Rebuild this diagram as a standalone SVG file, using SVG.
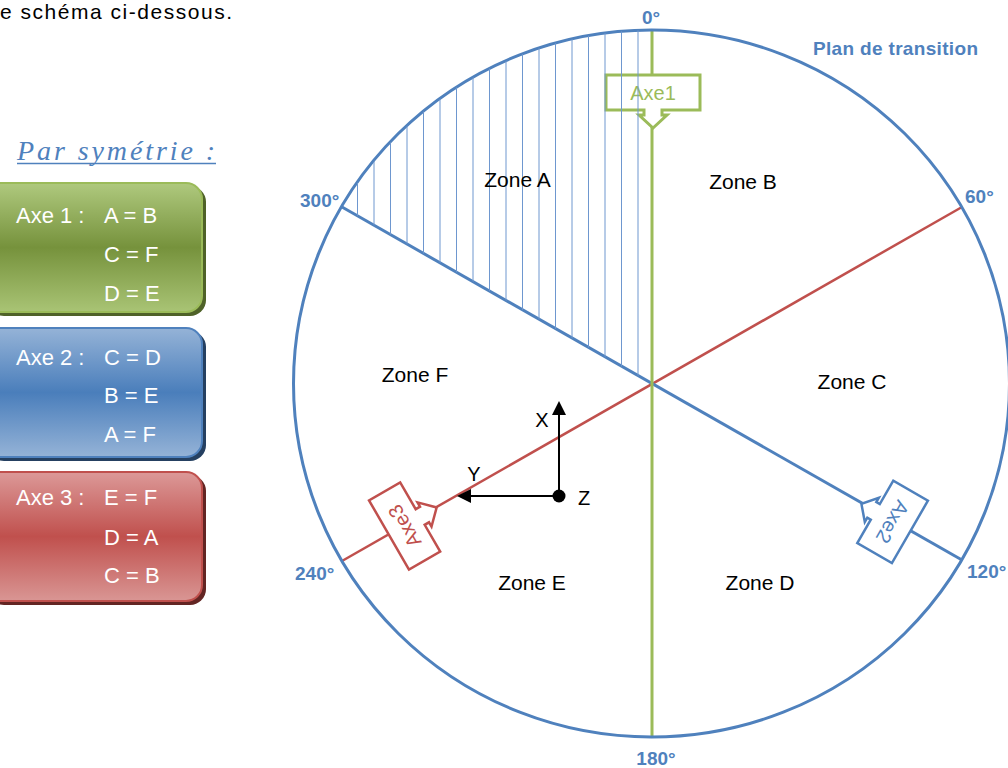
<svg xmlns="http://www.w3.org/2000/svg" width="1008" height="768" viewBox="0 0 1008 768">
<style>
.t{font-family:"Liberation Sans",Arial,sans-serif}
.zone{font-family:"Liberation Sans",Arial,sans-serif;font-size:21px;fill:#000;text-anchor:middle}
.deg{font-family:"Liberation Sans",Arial,sans-serif;font-size:19px;font-weight:bold;fill:#4f81bd}
.leg{font-family:"Liberation Sans",Arial,sans-serif;font-size:22px;fill:#fff}
.ax{font-family:"Liberation Sans",Arial,sans-serif;font-size:20px;fill:#000;text-anchor:middle}
.call{font-family:"Liberation Sans",Arial,sans-serif;font-size:20px;text-anchor:middle}
.hatch{stroke:#6e97cf;stroke-width:1}
</style>
<defs>
<linearGradient id="gG" x1="0" y1="0" x2="0" y2="1">
<stop offset="0" stop-color="#afc97e"/><stop offset="0.5" stop-color="#76923c"/><stop offset="1" stop-color="#a9c475"/>
</linearGradient>
<linearGradient id="gB" x1="0" y1="0" x2="0" y2="1">
<stop offset="0" stop-color="#95b3d7"/><stop offset="0.5" stop-color="#4a7ebb"/><stop offset="1" stop-color="#95b3d7"/>
</linearGradient>
<linearGradient id="gR" x1="0" y1="0" x2="0" y2="1">
<stop offset="0" stop-color="#dc9998"/><stop offset="0.5" stop-color="#c0504d"/><stop offset="1" stop-color="#d99694"/>
</linearGradient>
<clipPath id="sector">
<path d="M651.5,383.5 L342,207 A358,353.5 0 0 1 651.5,30 Z"/>
</clipPath>
</defs>
<rect width="1008" height="768" fill="#fff"/>

<text class="t" x="0" y="19" font-size="21" fill="#000" textLength="232">e schéma ci-dessous.</text>

<g id="legend-title">
<text x="17" y="160" font-family="'Liberation Serif',serif" font-style="italic" font-size="28" fill="#4f81bd" textLength="198">Par symétrie :</text>
<line x1="17" y1="163.5" x2="216" y2="163.5" stroke="#4f81bd" stroke-width="1.5"/>
</g>

<g id="box-axe1">
<rect x="-12" y="186" width="218" height="130" rx="16" fill="#4f6228"/>
<rect x="-15" y="183" width="217" height="129" rx="16" fill="url(#gG)" stroke="#9bbb59" stroke-width="2"/>
<text class="leg" x="16" y="223">Axe 1 :</text>
<text class="leg" x="104" y="223">A = B</text>
<text class="leg" x="104" y="262">C = F</text>
<text class="leg" x="104" y="301">D = E</text>
</g>

<g id="box-axe2">
<rect x="-12" y="331" width="218" height="130" rx="16" fill="#254061"/>
<rect x="-15" y="328" width="217" height="129" rx="16" fill="url(#gB)" stroke="#4f81bd" stroke-width="2"/>
<text class="leg" x="16" y="365">Axe 2 :</text>
<text class="leg" x="104" y="365">C = D</text>
<text class="leg" x="104" y="403">B = E</text>
<text class="leg" x="104" y="442">A = F</text>
</g>

<g id="box-axe3">
<rect x="-12" y="475" width="218" height="130" rx="16" fill="#632523"/>
<rect x="-15" y="472" width="217" height="129" rx="16" fill="url(#gR)" stroke="#c0504d" stroke-width="2"/>
<text class="leg" x="16" y="505">Axe 3 :</text>
<text class="leg" x="104" y="505">E = F</text>
<text class="leg" x="104" y="545">D = A</text>
<text class="leg" x="104" y="583">C = B</text>
</g>

<g id="connectors">
<line id="axe3-line" x1="962" y1="207" x2="342" y2="561" stroke="#c0504d" stroke-width="2.5"/>
<line id="axe2-line" x1="342" y1="207" x2="962" y2="560" stroke="#4f81bd" stroke-width="3"/>
<line id="axe1-line" x1="652" y1="30" x2="652" y2="737" stroke="#9bbb59" stroke-width="3"/>
</g>

<g id="circle">
<ellipse cx="651.5" cy="383.5" rx="358" ry="353.5" fill="none" stroke="#4f81bd" stroke-width="3"/>
</g>

<g id="callout-axe1" transform="translate(653,92.5)">
<path d="M-47,-17.5 H47 V17.5 H9 V22.5 H14 L0,35.5 L-14,22.5 H-9 V17.5 H-47 Z" fill="#fff" stroke="#9bbb59" stroke-width="3"/>
<text class="call" x="0" y="7" fill="#9bbb59">Axe1</text>
</g>

<g id="hatch" clip-path="url(#sector)">
<line class="hatch" x1="638" y1="20" x2="638" y2="390"/>
<line class="hatch" x1="621.5" y1="20" x2="621.5" y2="390"/>
<line class="hatch" x1="605" y1="20" x2="605" y2="390"/>
<line class="hatch" x1="588.5" y1="20" x2="588.5" y2="390"/>
<line class="hatch" x1="572" y1="20" x2="572" y2="390"/>
<line class="hatch" x1="555.5" y1="20" x2="555.5" y2="390"/>
<line class="hatch" x1="539" y1="20" x2="539" y2="390"/>
<line class="hatch" x1="522.5" y1="20" x2="522.5" y2="390"/>
<line class="hatch" x1="506" y1="20" x2="506" y2="390"/>
<line class="hatch" x1="489.5" y1="20" x2="489.5" y2="390"/>
<line class="hatch" x1="473" y1="20" x2="473" y2="390"/>
<line class="hatch" x1="456.5" y1="20" x2="456.5" y2="390"/>
<line class="hatch" x1="440" y1="20" x2="440" y2="390"/>
<line class="hatch" x1="423.5" y1="20" x2="423.5" y2="390"/>
<line class="hatch" x1="407" y1="20" x2="407" y2="390"/>
<line class="hatch" x1="390.5" y1="20" x2="390.5" y2="390"/>
<line class="hatch" x1="374" y1="20" x2="374" y2="390"/>
<line class="hatch" x1="357.5" y1="20" x2="357.5" y2="390"/>
</g>

<g id="callout-axe2" transform="translate(892.6,521.9) rotate(120)">
<path d="M-36,-20 H36 V20 H9 V24 H14 L0,36 L-14,24 H-9 V20 H-36 Z" fill="#fff" stroke="#4f81bd" stroke-width="2.5"/>
<text class="call" x="0" y="7" fill="#4f81bd">Axe2</text>
</g>

<g id="callout-axe3" transform="translate(404.6,526) rotate(240)">
<path d="M-40,-18 H40 V18 H9 V23 H14 L0,37 L-14,23 H-9 V18 H-40 Z" fill="#fff" stroke="#c0504d" stroke-width="2.5"/>
<text class="call" x="0" y="7" fill="#c0504d">Axe3</text>
</g>

<g id="labels">
<text class="deg" x="651" y="24" text-anchor="middle">0°</text>
<text class="deg" x="813" y="55" textLength="165">Plan de transition</text>
<text class="deg" x="965" y="203">60°</text>
<text class="deg" x="300" y="207">300°</text>
<text class="deg" x="295" y="580">240°</text>
<text class="deg" x="967" y="578">120°</text>
<text class="deg" x="656" y="765" text-anchor="middle">180°</text>
</g>

<g id="zones">
<text class="zone" x="517.5" y="187">Zone A</text>
<text class="zone" x="743" y="189">Zone B</text>
<text class="zone" x="852" y="389">Zone C</text>
<text class="zone" x="760" y="590">Zone D</text>
<text class="zone" x="532" y="590">Zone E</text>
<text class="zone" x="415" y="382">Zone F</text>
</g>

<g id="axes">
<line x1="559" y1="496" x2="559" y2="413" stroke="#000" stroke-width="2"/>
<polygon points="559,401 552,415 566,415" fill="#000"/>
<line x1="559" y1="496" x2="470" y2="496" stroke="#000" stroke-width="2"/>
<polygon points="457,496 471,489 471,503" fill="#000"/>
<circle cx="559" cy="496" r="6.5" fill="#000"/>
<text class="ax" x="542" y="427">X</text>
<text class="ax" x="474" y="481">Y</text>
<text class="ax" x="584" y="505">Z</text>
</g>
</svg>
